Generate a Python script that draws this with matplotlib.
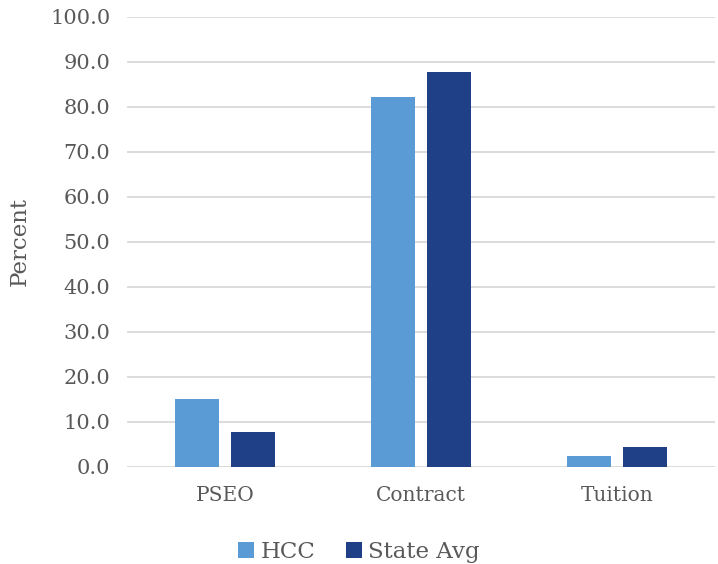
import matplotlib.pyplot as plt
import numpy as np

categories = ["PSEO", "Contract", "Tuition"]
hcc = [15.1, 82.2, 2.5]
state_avg = [7.7, 87.7, 4.5]
yticks = np.arange(0, 101, 10)

text_color = "#595959"
plt.rcParams["font.family"] = ["DejaVu Serif"]

fig = plt.figure(figsize=(7.18, 5.64), dpi=100)
ax = fig.add_axes([0.177, 0.172, 0.819, 0.798])

x = np.arange(len(categories))
width = 0.224
offset = 0.143
ax.bar(x - offset, hcc, width, color="#5B9BD5", label="HCC", zorder=3)
ax.bar(x + offset, state_avg, width, color="#1F3F87", label="State Avg", zorder=3)

ax.set_xlim(-0.5, 2.5)
ax.set_ylim(0, 100)
ax.set_yticks(yticks)
ax.set_yticklabels([f"{v:.1f}" for v in yticks])
ax.set_xticks(x)
ax.set_xticklabels(categories, fontsize=14.5)
ax.tick_params(axis="both", length=0, colors=text_color)
ax.tick_params(axis="y", labelsize=15, pad=12)
ax.tick_params(axis="x", pad=14)
ax.yaxis.grid(True, color="#d9d9d9", linewidth=1.3, zorder=0)
for s in ax.spines.values():
    s.set_visible(False)
ax.set_ylabel("Percent", color=text_color, fontsize=16.5, labelpad=14)

fig.legend(loc="lower center", bbox_to_anchor=(0.5, -0.035), ncol=2, frameon=False,
           fontsize=16.5, labelcolor=text_color, handlelength=0.7, handleheight=0.7,
           handletextpad=0.3, columnspacing=1.3)

fig.savefig("out.png", dpi=100)
